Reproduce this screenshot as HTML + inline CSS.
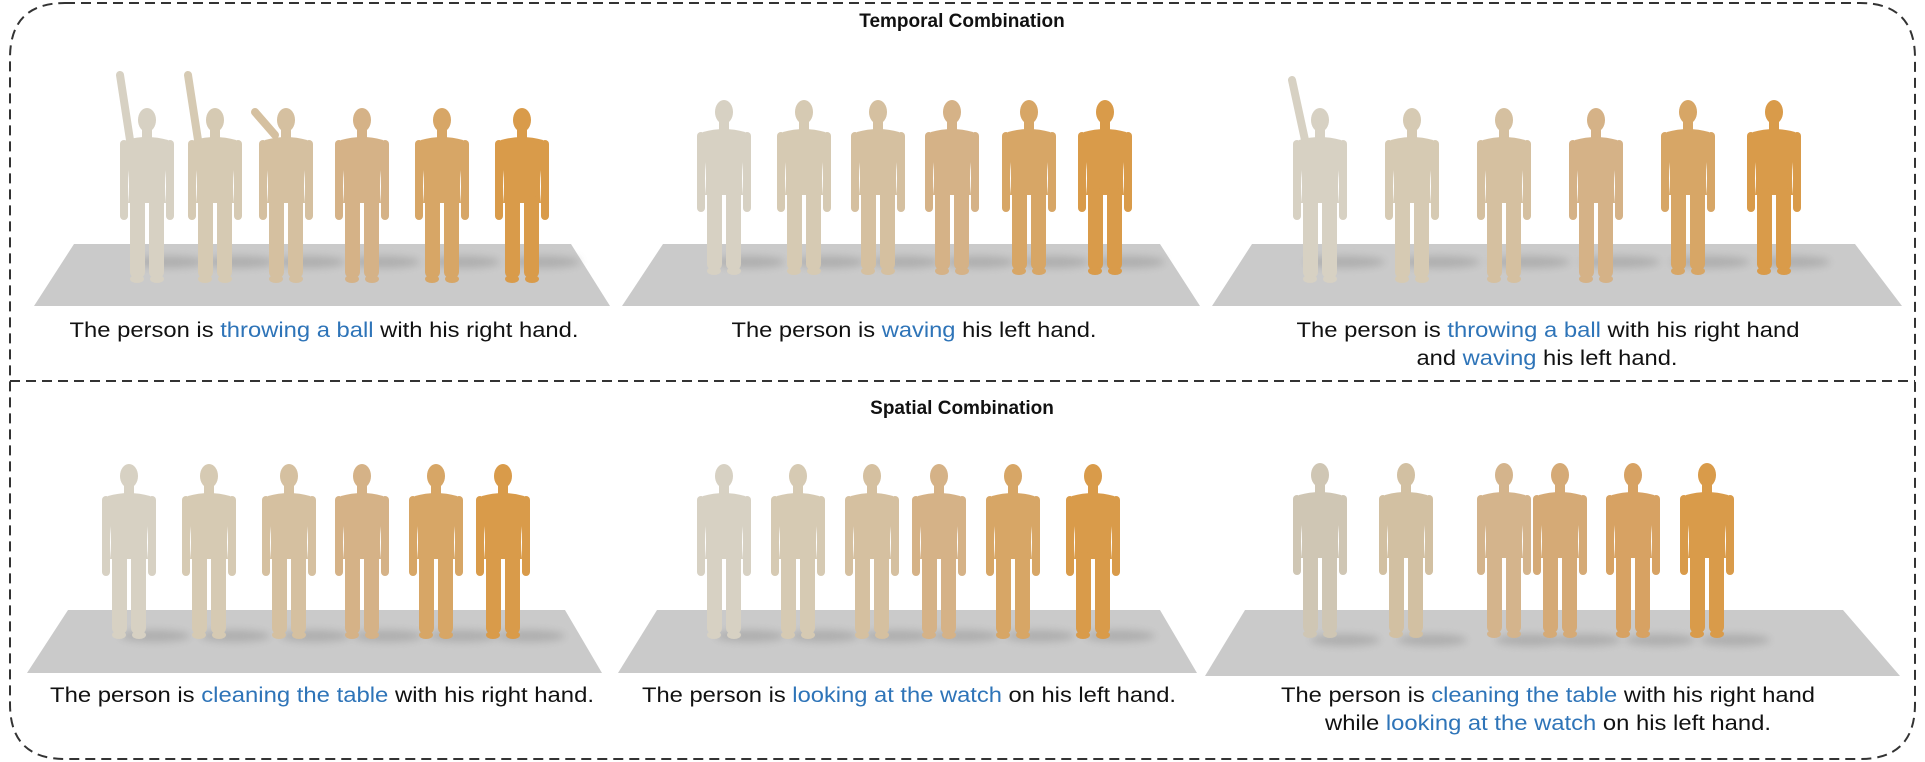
<!DOCTYPE html>
<html><head><meta charset="utf-8"><style>
html,body{margin:0;padding:0;background:#fff;}
svg{display:block;}
text{font-family:"Liberation Sans",Arial,sans-serif;}
.cap{font-size:21px;fill:#111;}
.b{fill:#2e74b8;}
</style></head><body>
<svg width="1925" height="762" viewBox="0 0 1925 762" xmlns="http://www.w3.org/2000/svg">
<defs>
<g id="fig">
  <ellipse cx="0" cy="12" rx="9" ry="12"/>
  <rect x="-5" y="20" width="10" height="14"/>
  <path d="M-21 32 Q0 26 21 32 L19 62 Q17 78 19 95 L-19 95 Q-17 78 -19 62 Z"/>
  <rect x="-27" y="32" width="8" height="80" rx="4"/>
  <rect x="19" y="32" width="8" height="80" rx="4"/>
  <rect x="-17" y="88" width="15" height="82" rx="6"/>
  <rect x="2" y="88" width="15" height="82" rx="6"/>
  <ellipse cx="-10" cy="171" rx="7" ry="4"/>
  <ellipse cx="10" cy="171" rx="7" ry="4"/>
</g>
<filter id="bl"><feGaussianBlur stdDeviation="4"/></filter>
</defs>
<path d="M65 3 H1860 Q1915 3 1915 58 V704 Q1915 759 1860 759 H65 Q10 759 10 704 V58 Q10 3 65 3 Z" fill="none" stroke="#333" stroke-width="2" stroke-dasharray="10,6"/>
<line x1="10" y1="381" x2="1915" y2="381" stroke="#333" stroke-width="2" stroke-dasharray="10,6"/>
<text x="962" y="27" text-anchor="middle" font-size="19" font-weight="bold" fill="#111">Temporal Combination</text>
<text x="962" y="414" text-anchor="middle" font-size="19" font-weight="bold" fill="#111">Spatial Combination</text>

<polygon points="74,244 571,244 610,306 34,306" fill="#cacaca"/>
<polygon points="663,244 1160,244 1200,306 622,306" fill="#cacaca"/>
<polygon points="1252,244 1855,244 1902,306 1212,306" fill="#cacaca"/>
<polygon points="68,610 565,610 602,673 27,673" fill="#cacaca"/>
<polygon points="657,610 1160,610 1197,673 618,673" fill="#cacaca"/>
<polygon points="1245,610 1843,610 1900,676 1205,676" fill="#cacaca"/>

<g fill="#a8a8a8" filter="url(#bl)" opacity="0.8">
<ellipse cx="170" cy="262" rx="35" ry="6"/><ellipse cx="240" cy="262" rx="35" ry="6"/><ellipse cx="310" cy="262" rx="35" ry="6"/><ellipse cx="385" cy="262" rx="35" ry="6"/><ellipse cx="465" cy="262" rx="35" ry="6"/><ellipse cx="545" cy="262" rx="35" ry="6"/>
<ellipse cx="750" cy="262" rx="35" ry="6"/><ellipse cx="830" cy="262" rx="35" ry="6"/><ellipse cx="905" cy="262" rx="35" ry="6"/><ellipse cx="980" cy="262" rx="35" ry="6"/><ellipse cx="1055" cy="262" rx="35" ry="6"/><ellipse cx="1130" cy="262" rx="35" ry="6"/>
<ellipse cx="1345" cy="262" rx="40" ry="6"/><ellipse cx="1440" cy="262" rx="40" ry="6"/><ellipse cx="1530" cy="262" rx="40" ry="6"/><ellipse cx="1620" cy="262" rx="40" ry="6"/><ellipse cx="1710" cy="262" rx="40" ry="6"/><ellipse cx="1795" cy="262" rx="35" ry="6"/>
<ellipse cx="155" cy="636" rx="35" ry="6"/><ellipse cx="235" cy="636" rx="35" ry="6"/><ellipse cx="315" cy="636" rx="35" ry="6"/><ellipse cx="388" cy="636" rx="35" ry="6"/><ellipse cx="462" cy="636" rx="35" ry="6"/><ellipse cx="530" cy="636" rx="35" ry="6"/>
<ellipse cx="750" cy="636" rx="35" ry="6"/><ellipse cx="824" cy="636" rx="35" ry="6"/><ellipse cx="898" cy="636" rx="35" ry="6"/><ellipse cx="965" cy="636" rx="35" ry="6"/><ellipse cx="1040" cy="636" rx="35" ry="6"/><ellipse cx="1120" cy="636" rx="35" ry="6"/>
<ellipse cx="1345" cy="640" rx="35" ry="6"/><ellipse cx="1432" cy="640" rx="35" ry="6"/><ellipse cx="1530" cy="640" rx="35" ry="6"/><ellipse cx="1586" cy="640" rx="35" ry="6"/><ellipse cx="1660" cy="640" rx="35" ry="6"/><ellipse cx="1735" cy="640" rx="35" ry="6"/>
</g>

<g>
<use href="#fig" x="147" y="108" fill="#d7d1c3"/><use href="#fig" x="215" y="108" fill="#d6cab3"/><use href="#fig" x="286" y="108" fill="#d5c0a0"/><use href="#fig" x="362" y="108" fill="#d5b287"/><use href="#fig" x="442" y="108" fill="#d7a666"/><use href="#fig" x="522" y="108" fill="#d99b4a"/>
<use href="#fig" x="724" y="100" fill="#d7d1c3"/><use href="#fig" x="804" y="100" fill="#d6cab3"/><use href="#fig" x="878" y="100" fill="#d5c0a0"/><use href="#fig" x="952" y="100" fill="#d5b287"/><use href="#fig" x="1029" y="100" fill="#d7a666"/><use href="#fig" x="1105" y="100" fill="#d99b4a"/>
<use href="#fig" x="1320" y="108" fill="#d7d1c3"/><use href="#fig" x="1412" y="108" fill="#d6cab3"/><use href="#fig" x="1504" y="108" fill="#d5c0a0"/><use href="#fig" x="1596" y="108" fill="#d5b287"/><use href="#fig" x="1688" y="100" fill="#d7a666"/><use href="#fig" x="1774" y="100" fill="#d99b4a"/>
<g stroke-linecap="round" stroke-width="8" fill="none">
<path d="M130 140 L120 75" stroke="#d7d1c3"/><path d="M198 140 L188 75" stroke="#d6cab3"/><path d="M275 135 L255 112" stroke="#d5c0a0"/>
<path d="M1305 140 L1292 80" stroke="#d7d1c3"/>
</g>
</g>
<g>
<use href="#fig" x="129" y="464" fill="#d7d1c3"/><use href="#fig" x="209" y="464" fill="#d6cab3"/><use href="#fig" x="289" y="464" fill="#d5c0a0"/><use href="#fig" x="362" y="464" fill="#d5b287"/><use href="#fig" x="436" y="464" fill="#d7a666"/><use href="#fig" x="503" y="464" fill="#d99b4a"/>
<use href="#fig" x="724" y="464" fill="#d7d1c3"/><use href="#fig" x="798" y="464" fill="#d6cab3"/><use href="#fig" x="872" y="464" fill="#d5c0a0"/><use href="#fig" x="939" y="464" fill="#d5b287"/><use href="#fig" x="1013" y="464" fill="#d7a666"/><use href="#fig" x="1093" y="464" fill="#d99b4a"/>
<use href="#fig" x="1320" y="463" fill="#cfc6b4"/><use href="#fig" x="1406" y="463" fill="#d2c0a2"/><use href="#fig" x="1504" y="463" fill="#d4b48c"/><use href="#fig" x="1560" y="463" fill="#d5aa76"/><use href="#fig" x="1633" y="463" fill="#d7a263"/><use href="#fig" x="1707" y="463" fill="#d99b4a"/>
</g>

<text class="cap" x="324" y="337" text-anchor="middle" textLength="509" lengthAdjust="spacingAndGlyphs">The person is <tspan class="b">throwing a ball</tspan> with his right hand.</text>
<text class="cap" x="914" y="337" text-anchor="middle" textLength="365" lengthAdjust="spacingAndGlyphs">The person is <tspan class="b">waving</tspan> his left hand.</text>
<text class="cap" x="1548" y="337" text-anchor="middle" textLength="503" lengthAdjust="spacingAndGlyphs">The person is <tspan class="b">throwing a ball</tspan> with his right hand</text>
<text class="cap" x="1547" y="365" text-anchor="middle" textLength="261" lengthAdjust="spacingAndGlyphs">and <tspan class="b">waving</tspan> his left hand.</text>
<text class="cap" x="322" y="702" text-anchor="middle" textLength="544" lengthAdjust="spacingAndGlyphs">The person is <tspan class="b">cleaning the table</tspan> with his right hand.</text>
<text class="cap" x="909" y="702" text-anchor="middle" textLength="534" lengthAdjust="spacingAndGlyphs">The person is <tspan class="b">looking at the watch</tspan> on his left hand.</text>
<text class="cap" x="1548" y="702" text-anchor="middle" textLength="534" lengthAdjust="spacingAndGlyphs">The person is <tspan class="b">cleaning the table</tspan> with his right hand</text>
<text class="cap" x="1548" y="730" text-anchor="middle" textLength="446" lengthAdjust="spacingAndGlyphs">while <tspan class="b">looking at the watch</tspan> on his left hand.</text>
</svg>
</body></html>
